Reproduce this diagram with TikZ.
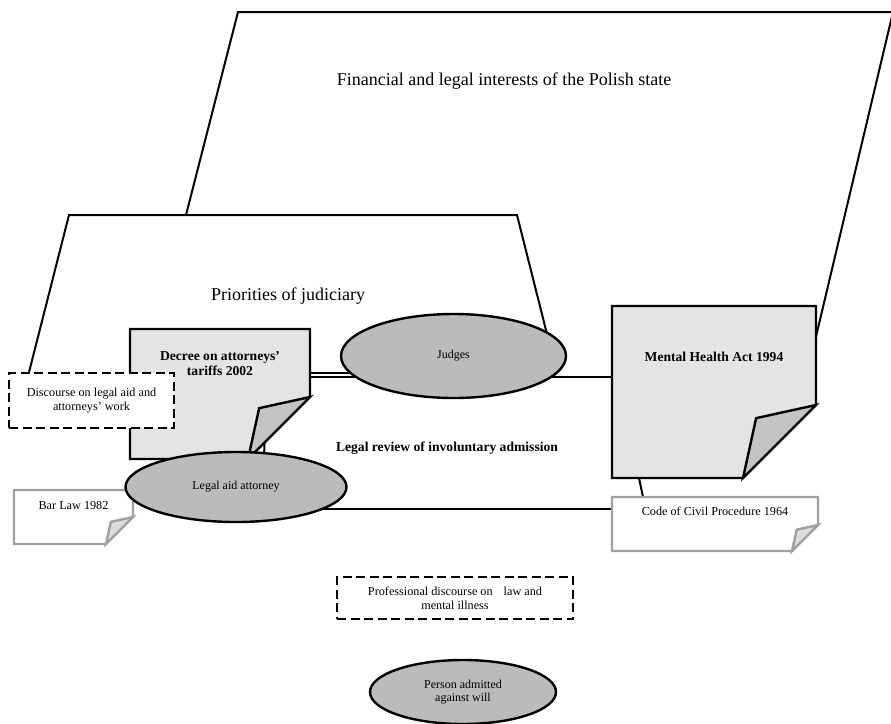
\documentclass[tikz,border=0pt]{standalone}
\usepackage{fontspec}
\setmainfont{Liberation Serif}
\usetikzlibrary{shapes.geometric,positioning,backgrounds}
\definecolor{PaperFill}{HTML}{E4E4E4}
\definecolor{FlapFill}{HTML}{C4C4C4}
\definecolor{OvalFill}{HTML}{BBBBBB}
\definecolor{LightEdge}{HTML}{A0A0A0}
\definecolor{LightFlap}{HTML}{DCDCDC}

\begin{document}
\begin{tikzpicture}[x=1pt, y=-1pt,
    sheet/.style={inner sep=0pt, outer sep=0pt},
    sheetline/.style={line width=2.4pt},
    oval/.style={ellipse, draw, line width=2.4pt, fill=OvalFill, inner sep=0pt, outer sep=0pt, align=center, font=\fontsize{12}{13.5}\selectfont},
    dashbox/.style={draw, fill=white, line width=2.6pt, dash pattern=on 9pt off 4.5pt, align=center, inner sep=0pt, outer sep=0pt, font=\fontsize{12.2}{14}\selectfont},
    title/.style={font=\fontsize{18}{21}\selectfont, inner sep=0pt},
    lawtext/.style={font=\fontsize{13.6}{15}\selectfont\bfseries, align=center, inner sep=0pt},
    smalltext/.style={font=\fontsize{12.2}{13.5}\selectfont, align=center, inner sep=0pt},
    frame/.style={line width=2pt},
    link/.style={line width=2pt}
  ]
    \useasboundingbox (0,0) rectangle (891,723);

    % paper sheets (outline drawn below)
    \node[sheet, minimum width=180pt, minimum height=130pt] (decree) at (220,394) {};
    \node[sheet, minimum width=204pt, minimum height=172pt] (mha) at (714,392) {};
    \node[sheet, minimum width=119pt, minimum height=54pt] (barlaw) at (73.5,517) {};
    \node[sheet, minimum width=206pt, minimum height=54pt] (civil) at (715,524) {};

    \foreach \nm/\cut/\edge/\body/\flap in {decree/62/black/PaperFill/FlapFill, mha/73/black/PaperFill/FlapFill, barlaw/27/LightEdge/white/LightFlap, civil/26/LightEdge/white/LightFlap}{
      \draw[sheetline, draw=\edge, fill=\body] (\nm.north west) -- (\nm.north east) -- ([yshift=\cut pt]\nm.south east)
        -- ([xshift=-\cut pt]\nm.south east) -- (\nm.south west) -- cycle;
      \draw[sheetline, draw=\edge, fill=\flap] ([yshift=\cut pt]\nm.south east) -- ([shift={(-0.82*\cut,-0.82*\cut)}]\nm.south east)
        -- ([xshift=-\cut pt]\nm.south east) -- cycle;
    }

    \node[lawtext, below=22pt of decree.north] (decreetxt) {Decree on attorneys'\\tariffs 2002};
    \node[lawtext, below=46pt of mha.north] (mhatxt) {Mental Health Act 1994};
    \node[smalltext, below=11pt of barlaw.north] (barlawtxt) {Bar Law 1982};
    \node[smalltext, below=9.5pt of civil.north] (civiltxt) {Code of Civil Procedure 1964};

    % actors
    \node[oval, minimum width=225pt, minimum height=84pt] (judges) at (453.5,356) {Judges};
    \node[oval, minimum width=221pt, minimum height=70pt] (legalaid) at (236,487) {Legal aid attorney};
    \node[oval, minimum width=186pt, minimum height=64pt] (person) at (463,692) {Person admitted\\against will};

    % discourses
    \node[dashbox, minimum width=165pt, minimum height=55pt] (aidtalk) at (91.5,400.5) {Discourse on legal aid and\\attorneys' work};
    \node[dashbox, minimum width=236pt, minimum height=42pt] (proftalk) at (455,598) {Professional discourse on\hspace{8pt} law and\\mental illness};

    % fields
    \node[title] (state) at (504,81) {Financial and legal interests of the Polish state};
    \node[title] (judiciary) at (288,296) {Priorities of judiciary};
    \node[lawtext] (review) at (447,448) {Legal review of involuntary admission};

    \begin{scope}[on background layer]
      \fill[white] (0,0) rectangle (891,723);
      \draw[frame] (186,215) -- (238,12) -- (893,12) -- (814,345);
      \draw[frame] (25,388) -- (69,215) -- (517,215) -- (551,350);

      \draw[link] ([yshift=21pt]decree.east) -- ([yshift=21pt]decree.east -| judges.center);
      \draw[link] ([yshift=17pt]decree.east) -- ([yshift=17pt]decree.east -| mha.west);
      \draw[link] ([yshift=15pt]civil.west -| legalaid.center) -- ([yshift=15pt]civil.west);
      \draw[link] ([xshift=-45pt,yshift=30pt]decree.south east) -- ([xshift=-47pt]decree.south east |- legalaid.center);
      \draw[link] ([xshift=27pt]mha.south west) -- ([xshift=31pt]civil.north west);
    \end{scope}
  \end{tikzpicture}
\end{document}
